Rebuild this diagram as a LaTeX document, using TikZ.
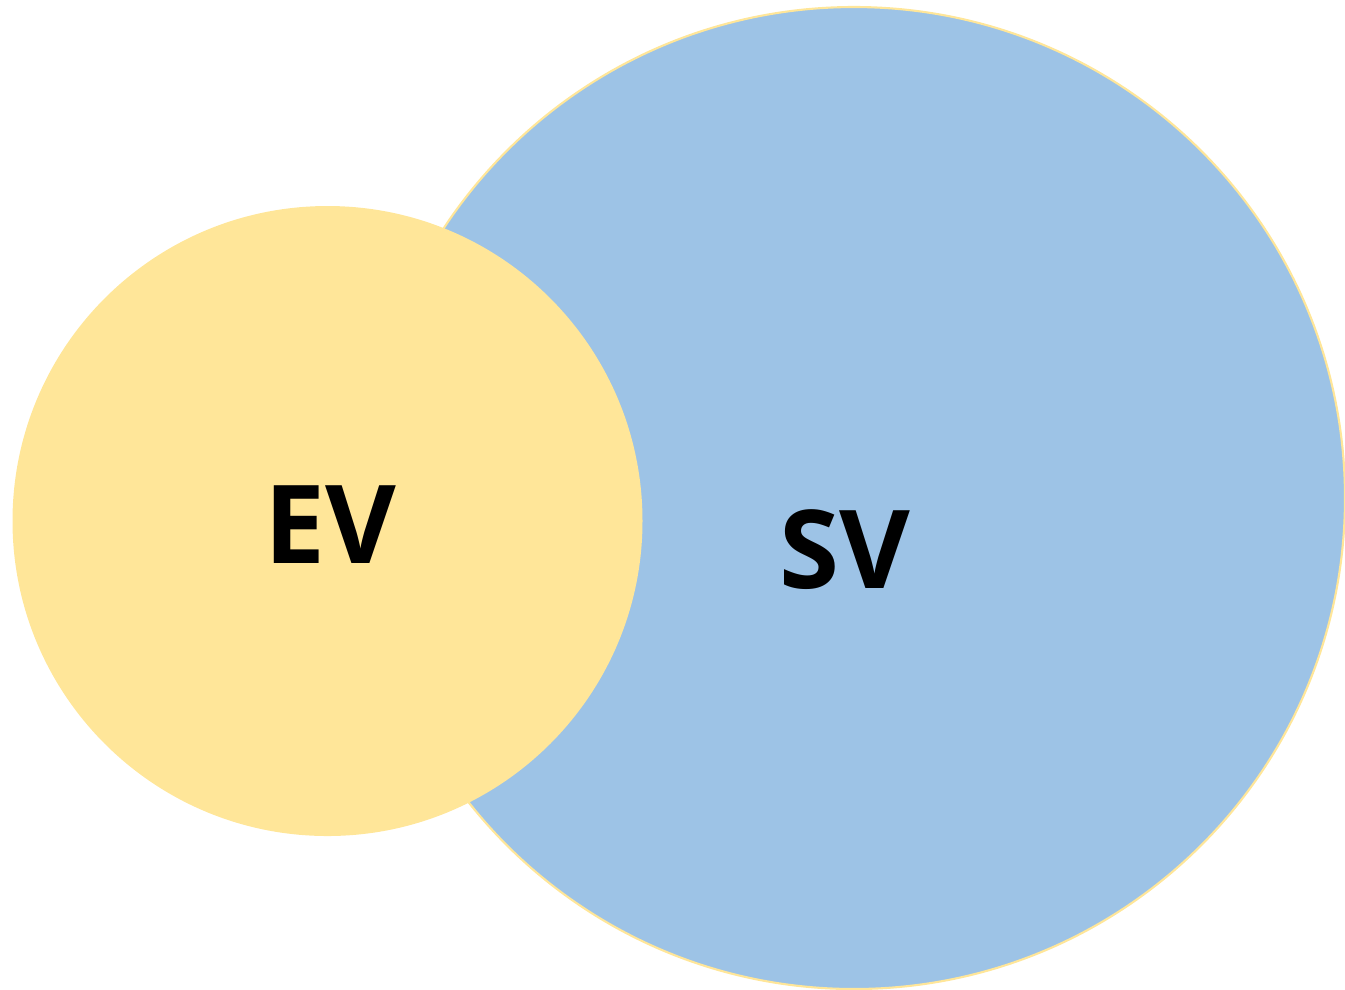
\documentclass[tikz,border=0pt]{standalone}
\usepackage{fontspec}
\setmainfont{Open Sans}
\definecolor{svblue}{HTML}{9DC3E6}
\definecolor{evyellow}{HTML}{FFE699}
\tikzset{
  setlabel/.style={font=\fontsize{31}{36}\selectfont\bfseries, text=black}
}
\begin{document}
\begin{tikzpicture}[scale=1.0]
  \useasboundingbox (0,0) rectangle (13.45,-9.89);
  \begin{scope}[xshift=8.54cm, yshift=-4.98cm]
    \filldraw[fill=svblue, draw=evyellow, line width=0.6pt] (0,0) circle (4.91);
    \node[setlabel] (sv) at (-0.09,-0.52) {SV};
  \end{scope}
  \begin{scope}[xshift=3.275cm, yshift=-5.21cm]
    \fill[evyellow] (0,0) circle (3.15);
    \node[setlabel] (ev) at (0.03,-0.04) {EV};
  \end{scope}
\end{tikzpicture}
\end{document}
